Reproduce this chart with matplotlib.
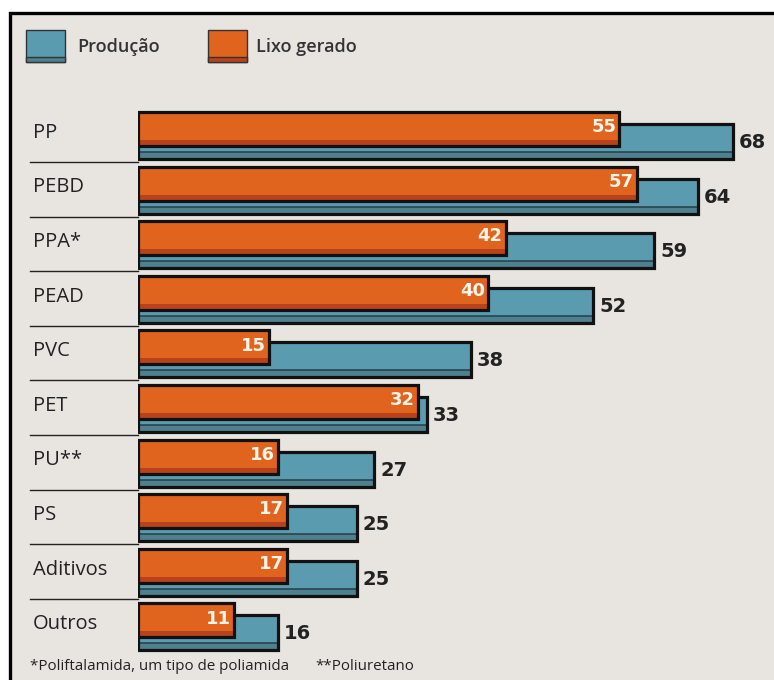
import matplotlib
matplotlib.use("Agg")
import matplotlib.pyplot as plt
from matplotlib.patches import Rectangle
from matplotlib.transforms import blended_transform_factory

categories = ["PP", "PEBD", "PPA*", "PEAD", "PVC", "PET", "PU**", "PS", "Aditivos", "Outros"]
producao = [68, 64, 59, 52, 38, 33, 27, 25, 25, 16]
lixo = [55, 57, 42, 40, 15, 32, 16, 17, 17, 11]
legend_labels = ["Produção", "Lixo gerado"]
footnote1 = "*Poliftalamida, um tipo de poliamida"
footnote2 = "**Poliuretano"

W, H = 774, 680
BG = "#e8e5e0"
BLUE = "#5a9bb0"
BLUE_D = "#4e808e"
ORANGE = "#e0631e"
ORANGE_D = "#b8421c"
EDGE = "#111111"

fig = plt.figure(figsize=(W / 100, H / 100), dpi=100)
fig.patch.set_facecolor("white")

# frame (top and left border visible)
frame = Rectangle((10 / W, -0.1), 1.2, (H - 13) / H + 0.1, transform=fig.transFigure,
                  facecolor=BG, edgecolor="black", linewidth=2.4, zorder=-5)
fig.patches.append(frame)

# axes geometry in pixels
px_per_unit = 8.75
x0_px = 138
pitch = 54.6
top0 = 112
ytop, ybot = -0.2, 10.0
ax_top_px = top0 + ytop * pitch
ax_bot_px = top0 + ybot * pitch
ax_w_px = W - x0_px
ax = fig.add_axes([x0_px / W, 1 - ax_bot_px / H, ax_w_px / W, (ax_bot_px - ax_top_px) / H])
ax.set_zorder(2)
ax.set_xlim(0, ax_w_px / px_per_unit)
ax.set_ylim(ybot, ytop)
ax.axis("off")

o_h = 34 / pitch
b_off = 12 / pitch
b_h = 35 / pitch
lw = 2.3
strip_b = 7 / pitch
strip_o = 6 / pitch

for i, (cat, p, l) in enumerate(zip(categories, producao, lixo)):
    # production bar
    b_top = i + b_off
    ax.barh(b_top, p, height=b_h, align="edge", color=BLUE, linewidth=0, zorder=2)
    ax.barh(b_top + b_h - strip_b, p, height=strip_b, align="edge", color=BLUE_D,
            linewidth=0, zorder=3)
    ax.plot([0, p], [b_top + b_h - strip_b, b_top + b_h - strip_b], color="#243e48",
            lw=1.1, zorder=3)
    ax.barh(b_top, p, height=b_h, align="edge", fill=False, edgecolor=EDGE, linewidth=lw, zorder=4)
    # waste bar
    ax.barh(i, l, height=o_h, align="edge", color=ORANGE, linewidth=0, zorder=5)
    ax.barh(i + o_h - strip_o, l, height=strip_o, align="edge", color=ORANGE_D,
            linewidth=0, zorder=6)
    ax.barh(i, l, height=o_h, align="edge", fill=False, edgecolor=EDGE, linewidth=lw, zorder=7)
    # values
    ax.text(p + 0.7, i + 0.56, str(p), ha="left", va="center", fontsize=14,
            fontweight="bold", color="#222222", family="DejaVu Sans", zorder=8)
    ax.text(l - 0.35, i + 0.28, str(l), ha="right", va="center", fontsize=13,
            fontweight="bold", color="#fbf4e8", family="DejaVu Sans", zorder=8)

# category labels and separators
tr = blended_transform_factory(fig.transFigure, ax.transData)
for i, cat in enumerate(categories):
    ax.text(33 / W, i + 0.38, cat, transform=tr, ha="left", va="center",
            fontsize=14.5, color="#222222", family="Open Sans")
    if i < len(categories) - 1:
        ax.plot([30 / W, x0_px / W], [i + 0.915, i + 0.915], transform=tr,
                color="#222222", lw=1.0, clip_on=False)

# legend
def legend_box(x, color, dark):
    y_top, y_bot = 30, 62
    fig.patches.append(Rectangle((x / W, 1 - y_bot / H), 39 / W, (y_bot - y_top) / H,
                                 transform=fig.transFigure, facecolor=color,
                                 edgecolor="#333333", linewidth=1.0, zorder=2))
    fig.patches.append(Rectangle((x / W, 1 - y_bot / H), 39 / W, 5 / H,
                                 transform=fig.transFigure, facecolor=dark,
                                 edgecolor="#333333", linewidth=1.0, zorder=3))

legend_box(26, BLUE, BLUE_D)
legend_box(208, ORANGE, ORANGE_D)
fig.text(77 / W, 1 - 47 / H, legend_labels[0], ha="left", va="center", fontsize=13,
         fontweight="semibold", color="#333333", family="Open Sans")
fig.text(256 / W, 1 - 47 / H, legend_labels[1], ha="left", va="center", fontsize=13,
         fontweight="semibold", color="#333333", family="Open Sans")

# footnotes
fig.text(30 / W, 1 - 667 / H, footnote1, ha="left", va="center", fontsize=10.9,
         color="#222222", family="Open Sans")
fig.text(315 / W, 1 - 667 / H, footnote2, ha="left", va="center", fontsize=10.9,
         color="#222222", family="Open Sans")

fig.savefig("out.png", dpi=100, facecolor=fig.get_facecolor())
